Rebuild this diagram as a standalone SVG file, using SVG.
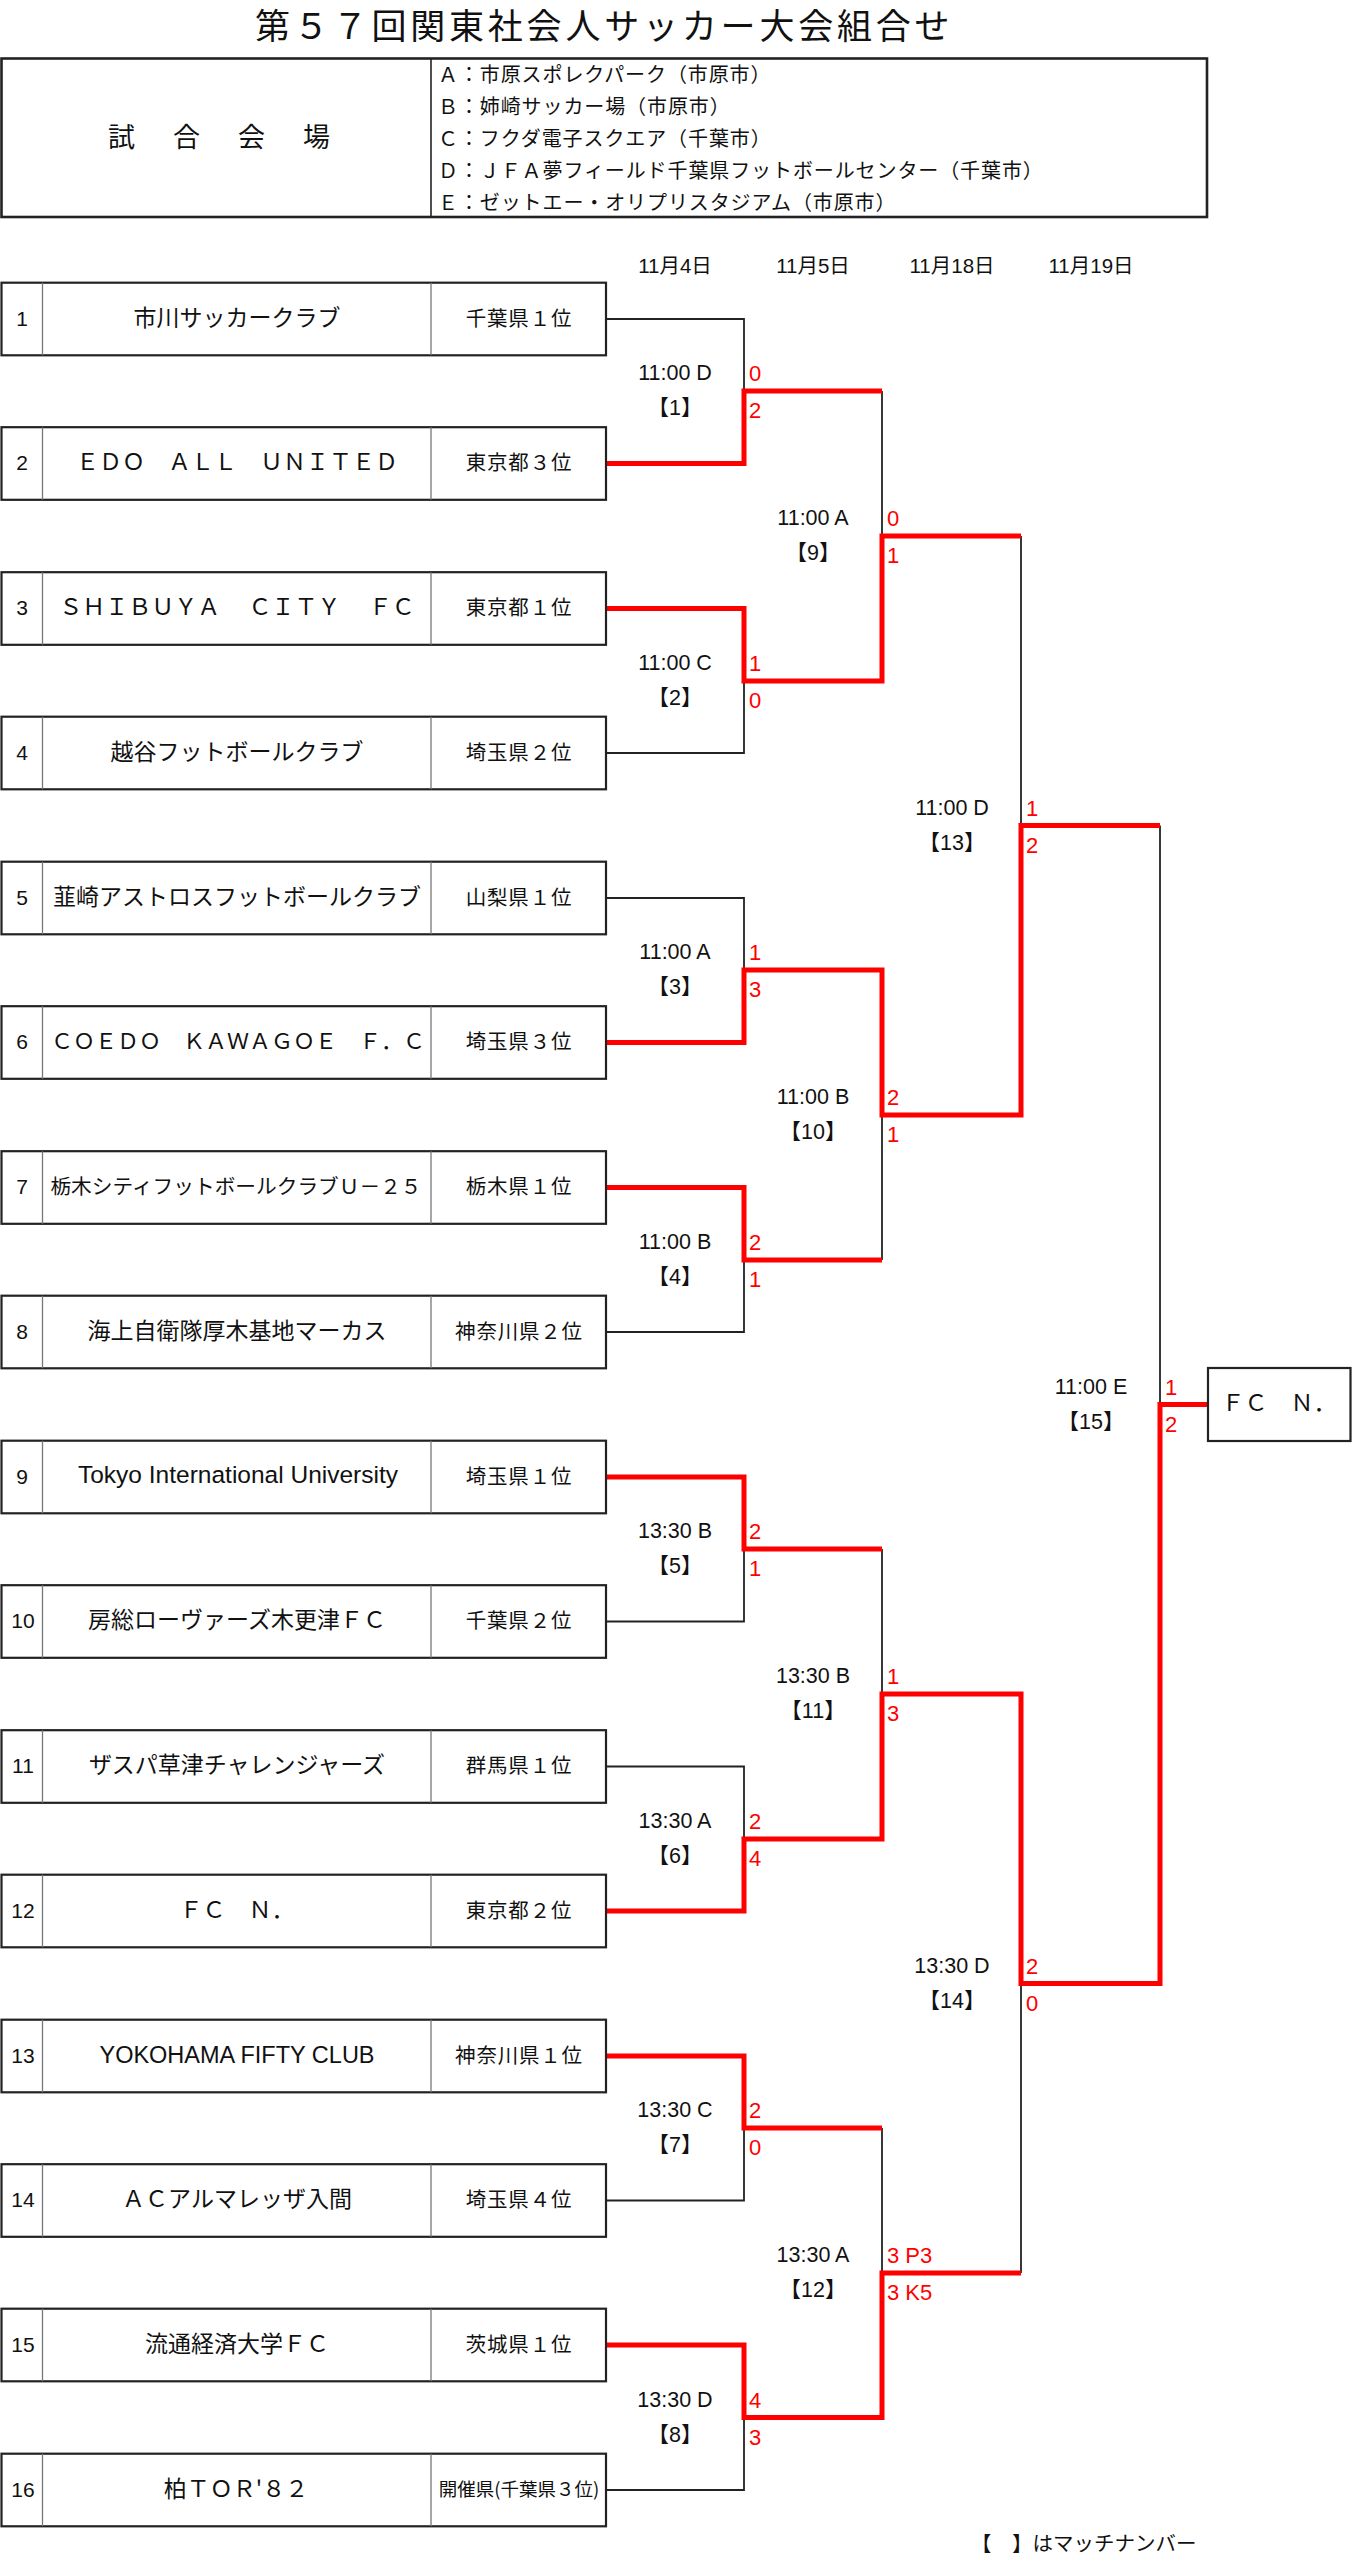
<svg xmlns="http://www.w3.org/2000/svg" width="1352" height="2561" viewBox="0 0 1352 2561">
<style>
.bg{fill:#fff}
.box{fill:#fff;stroke:#222;stroke-width:2.2}
.dv{stroke:#777;stroke-width:1.3}
.ln{fill:none;stroke:#222;stroke-width:1.8}
.win{fill:none;stroke:#ff0000;stroke-width:5;stroke-linejoin:miter;stroke-linecap:butt}
.num{font-family:"Liberation Sans","Noto Sans CJK JP",sans-serif;font-size:21px;text-anchor:middle;fill:#111}
.name{font-family:"Noto Sans CJK JP",sans-serif;font-size:23px;text-anchor:middle;fill:#111}
.lat{font-family:"Liberation Sans","Noto Sans CJK JP",sans-serif;text-anchor:middle;fill:#111}
.pref{font-family:"Noto Sans CJK JP",sans-serif;font-size:20.5px;letter-spacing:0.8px;text-anchor:middle;fill:#111}
.lbl{font-family:"Liberation Sans","Noto Sans CJK JP",sans-serif;font-size:21.5px;text-anchor:middle;fill:#111}
.sc{font-family:"Liberation Sans",sans-serif;font-size:22px;fill:#ff0000}
.ven{font-family:"Noto Sans CJK JP",sans-serif;font-size:20px;letter-spacing:0.9px;fill:#111}
</style>
<rect class="bg" x="0" y="0" width="1352" height="2561"/>

<g id="title">
<text x="255" y="39" style="font-family:'Noto Sans CJK JP',sans-serif;font-size:35px;letter-spacing:3.8px;fill:#111">第５７回関東社会人サッカー大会組合せ</text>
</g>

<g id="venues">
<rect x="1.5" y="58.5" width="1205.5" height="158.5" fill="#fff" stroke="#222" stroke-width="2.6"/>
<line x1="431" y1="58.5" x2="431" y2="217" stroke="#222" stroke-width="1.6"/>
<text x="108" y="146.5" style="font-family:'Noto Sans CJK JP',sans-serif;font-size:27px;letter-spacing:5.5px;fill:#111">試　合　会　場</text>
<text class="ven" x="438" y="82">Ａ：市原スポレクパーク（市原市）</text>
<text class="ven" x="438" y="114">Ｂ：姉崎サッカー場（市原市）</text>
<text class="ven" x="438" y="145.5">Ｃ：フクダ電子スクエア（千葉市）</text>
<text class="ven" x="438" y="178">Ｄ：ＪＦＡ夢フィールド千葉県フットボールセンター（千葉市）</text>
<text class="ven" x="438" y="210">Ｅ：ゼットエー・オリプリスタジアム（市原市）</text>
</g>

<g id="dates">
<text class="lbl" style="font-size:20.5px" x="675" y="273">11月4日</text>
<text class="lbl" style="font-size:20.5px" x="813" y="273">11月5日</text>
<text class="lbl" style="font-size:20.5px" x="952" y="273">11月18日</text>
<text class="lbl" style="font-size:20.5px" x="1091" y="273">11月19日</text>
</g>

<g id="connectors">
<path class="ln" d="M606,319 H744 V391"/>
<path class="ln" d="M606,753 H744 V681"/>
<path class="ln" d="M606,898 H744 V970"/>
<path class="ln" d="M606,1332 H744 V1260"/>
<path class="ln" d="M606,1621.5 H744 V1549"/>
<path class="ln" d="M606,1766.5 H744 V1839"/>
<path class="ln" d="M606,2200.5 H744 V2128"/>
<path class="ln" d="M606,2490 H744 V2417.5"/>
<path class="ln" d="M882,391 V536"/>
<path class="ln" d="M882,1260 V1115"/>
<path class="ln" d="M882,1549 V1694"/>
<path class="ln" d="M882,2128 V2273"/>
<path class="ln" d="M1021,536 V825.5"/>
<path class="ln" d="M1021,2273 V1983.5"/>
<path class="ln" d="M1160,825.5 V1404.5"/>
<path class="win" d="M606,463.5 H744 V391 H882"/>
<path class="win" d="M606,608.5 H744 V681 H882 V536 H1021"/>
<path class="win" d="M606,1042.5 H744 V970 H882 V1115 H1021 V825.5 H1160"/>
<path class="win" d="M606,1187.5 H744 V1260 H882"/>
<path class="win" d="M606,1477 H744 V1549 H882"/>
<path class="win" d="M606,1911 H744 V1839 H882 V1694 H1021 V1983.5 H1160 V1404.5 H1208"/>
<path class="win" d="M606,2056 H744 V2128 H882"/>
<path class="win" d="M606,2345 H744 V2417.5 H882 V2273 H1021"/>
</g>

<g id="team-1"><rect class="box" x="1.5" y="282.7" width="604.5" height="72.6"/><line class="dv" x1="42.5" y1="282.7" x2="42.5" y2="355.3"/><line class="dv" x1="431" y1="282.7" x2="431" y2="355.3"/>
<text class="num" x="22" y="325.5">1</text><text class="name" x="237" y="325.5">市川サッカークラブ</text><text class="pref" x="519" y="325.5">千葉県１位</text></g>

<g id="team-2"><rect class="box" x="1.5" y="427.2" width="604.5" height="72.6"/><line class="dv" x1="42.5" y1="427.2" x2="42.5" y2="499.8"/><line class="dv" x1="431" y1="427.2" x2="431" y2="499.8"/>
<text class="num" x="22" y="470">2</text><text class="name" x="237" y="470">ＥＤＯ　ＡＬＬ　ＵＮＩＴＥＤ</text><text class="pref" x="519" y="470">東京都３位</text></g>

<g id="team-3"><rect class="box" x="1.5" y="572.2" width="604.5" height="72.6"/><line class="dv" x1="42.5" y1="572.2" x2="42.5" y2="644.8"/><line class="dv" x1="431" y1="572.2" x2="431" y2="644.8"/>
<text class="num" x="22" y="615">3</text><text class="name" x="237" y="615">ＳＨＩＢＵＹＡ　 ＣＩＴＹ　 ＦＣ</text><text class="pref" x="519" y="615">東京都１位</text></g>

<g id="team-4"><rect class="box" x="1.5" y="716.7" width="604.5" height="72.6"/><line class="dv" x1="42.5" y1="716.7" x2="42.5" y2="789.3"/><line class="dv" x1="431" y1="716.7" x2="431" y2="789.3"/>
<text class="num" x="22" y="759.5">4</text><text class="name" x="237" y="759.5">越谷フットボールクラブ</text><text class="pref" x="519" y="759.5">埼玉県２位</text></g>

<g id="team-5"><rect class="box" x="1.5" y="861.7" width="604.5" height="72.6"/><line class="dv" x1="42.5" y1="861.7" x2="42.5" y2="934.3"/><line class="dv" x1="431" y1="861.7" x2="431" y2="934.3"/>
<text class="num" x="22" y="904.5">5</text><text class="name" x="237" y="904.5">韮崎アストロスフットボールクラブ</text><text class="pref" x="519" y="904.5">山梨県１位</text></g>

<g id="team-6"><rect class="box" x="1.5" y="1006.2" width="604.5" height="72.6"/><line class="dv" x1="42.5" y1="1006.2" x2="42.5" y2="1078.8"/><line class="dv" x1="431" y1="1006.2" x2="431" y2="1078.8"/>
<text class="num" x="22" y="1049">6</text><text class="name" style="font-size:22px" x="238" y="1049">ＣＯＥＤＯ　ＫＡＷＡＧＯＥ　Ｆ．Ｃ</text><text class="pref" x="519" y="1049">埼玉県３位</text></g>

<g id="team-7"><rect class="box" x="1.5" y="1151.2" width="604.5" height="72.6"/><line class="dv" x1="42.5" y1="1151.2" x2="42.5" y2="1223.8"/><line class="dv" x1="431" y1="1151.2" x2="431" y2="1223.8"/>
<text class="num" x="22" y="1194">7</text><text class="name" style="font-size:20.7px" x="236" y="1194">栃木シティフットボールクラブＵ－２５</text><text class="pref" x="519" y="1194">栃木県１位</text></g>

<g id="team-8"><rect class="box" x="1.5" y="1295.7" width="604.5" height="72.6"/><line class="dv" x1="42.5" y1="1295.7" x2="42.5" y2="1368.3"/><line class="dv" x1="431" y1="1295.7" x2="431" y2="1368.3"/>
<text class="num" x="22" y="1338.5">8</text><text class="name" x="237" y="1338.5">海上自衛隊厚木基地マーカス</text><text class="pref" x="519" y="1338.5">神奈川県２位</text></g>

<g id="team-9"><rect class="box" x="1.5" y="1440.7" width="604.5" height="72.6"/><line class="dv" x1="42.5" y1="1440.7" x2="42.5" y2="1513.3"/><line class="dv" x1="431" y1="1440.7" x2="431" y2="1513.3"/>
<text class="num" x="22" y="1483.5">9</text><text class="lat" style="font-size:24.5px" x="238" y="1483">Tokyo International University</text><text class="pref" x="519" y="1483.5">埼玉県１位</text></g>

<g id="team-10"><rect class="box" x="1.5" y="1585.2" width="604.5" height="72.6"/><line class="dv" x1="42.5" y1="1585.2" x2="42.5" y2="1657.8"/><line class="dv" x1="431" y1="1585.2" x2="431" y2="1657.8"/>
<text class="num" x="23" y="1628">10</text><text class="name" x="237" y="1628">房総ローヴァーズ木更津ＦＣ</text><text class="pref" x="519" y="1628">千葉県２位</text></g>

<g id="team-11"><rect class="box" x="1.5" y="1730.2" width="604.5" height="72.6"/><line class="dv" x1="42.5" y1="1730.2" x2="42.5" y2="1802.8"/><line class="dv" x1="431" y1="1730.2" x2="431" y2="1802.8"/>
<text class="num" x="23" y="1773">11</text><text class="name" x="237" y="1773">ザスパ草津チャレンジャーズ</text><text class="pref" x="519" y="1773">群馬県１位</text></g>

<g id="team-12"><rect class="box" x="1.5" y="1874.7" width="604.5" height="72.6"/><line class="dv" x1="42.5" y1="1874.7" x2="42.5" y2="1947.3"/><line class="dv" x1="431" y1="1874.7" x2="431" y2="1947.3"/>
<text class="num" x="23" y="1917.5">12</text><text class="name" x="237" y="1917.5">ＦＣ　Ｎ．</text><text class="pref" x="519" y="1917.5">東京都２位</text></g>

<g id="team-13"><rect class="box" x="1.5" y="2019.7" width="604.5" height="72.6"/><line class="dv" x1="42.5" y1="2019.7" x2="42.5" y2="2092.3"/><line class="dv" x1="431" y1="2019.7" x2="431" y2="2092.3"/>
<text class="num" x="23" y="2062.5">13</text><text class="lat" style="font-size:23.5px" x="237" y="2062.5">YOKOHAMA FIFTY CLUB</text><text class="pref" x="519" y="2062.5">神奈川県１位</text></g>

<g id="team-14"><rect class="box" x="1.5" y="2164.2" width="604.5" height="72.6"/><line class="dv" x1="42.5" y1="2164.2" x2="42.5" y2="2236.8"/><line class="dv" x1="431" y1="2164.2" x2="431" y2="2236.8"/>
<text class="num" x="23" y="2207">14</text><text class="name" x="237" y="2207">ＡＣアルマレッザ入間</text><text class="pref" x="519" y="2207">埼玉県４位</text></g>

<g id="team-15"><rect class="box" x="1.5" y="2308.7" width="604.5" height="72.6"/><line class="dv" x1="42.5" y1="2308.7" x2="42.5" y2="2381.3"/><line class="dv" x1="431" y1="2308.7" x2="431" y2="2381.3"/>
<text class="num" x="23" y="2351.5">15</text><text class="name" x="237" y="2351.5">流通経済大学ＦＣ</text><text class="pref" x="519" y="2351.5">茨城県１位</text></g>

<g id="team-16"><rect class="box" x="1.5" y="2453.7" width="604.5" height="72.6"/><line class="dv" x1="42.5" y1="2453.7" x2="42.5" y2="2526.3"/><line class="dv" x1="431" y1="2453.7" x2="431" y2="2526.3"/>
<text class="num" x="23" y="2496.5">16</text><text class="name" x="236" y="2496.5">柏ＴＯＲ'８２</text><text class="pref" style="font-size:18.5px;letter-spacing:0" x="519" y="2496">開催県(千葉県３位)</text></g>

<g id="champion"><rect class="box" x="1208" y="1368" width="142.5" height="73"/>
<text class="name" x="1279" y="1411">ＦＣ　Ｎ．</text></g>

<g id="match-1"><text class="lbl" x="675" y="380">11:00 D</text><text class="lbl" x="675" y="415">【1】</text><text class="sc" x="749" y="381">0</text><text class="sc" x="749" y="418">2</text></g>
<g id="match-2"><text class="lbl" x="675" y="670">11:00 C</text><text class="lbl" x="675" y="705">【2】</text><text class="sc" x="749" y="671">1</text><text class="sc" x="749" y="708">0</text></g>
<g id="match-3"><text class="lbl" x="675" y="959">11:00 A</text><text class="lbl" x="675" y="994">【3】</text><text class="sc" x="749" y="960">1</text><text class="sc" x="749" y="997">3</text></g>
<g id="match-4"><text class="lbl" x="675" y="1249">11:00 B</text><text class="lbl" x="675" y="1284">【4】</text><text class="sc" x="749" y="1250">2</text><text class="sc" x="749" y="1287">1</text></g>
<g id="match-5"><text class="lbl" x="675" y="1538">13:30 B</text><text class="lbl" x="675" y="1573">【5】</text><text class="sc" x="749" y="1539">2</text><text class="sc" x="749" y="1576">1</text></g>
<g id="match-6"><text class="lbl" x="675" y="1828">13:30 A</text><text class="lbl" x="675" y="1863">【6】</text><text class="sc" x="749" y="1829">2</text><text class="sc" x="749" y="1866">4</text></g>
<g id="match-7"><text class="lbl" x="675" y="2117">13:30 C</text><text class="lbl" x="675" y="2152">【7】</text><text class="sc" x="749" y="2118">2</text><text class="sc" x="749" y="2155">0</text></g>
<g id="match-8"><text class="lbl" x="675" y="2406.5">13:30 D</text><text class="lbl" x="675" y="2441.5">【8】</text><text class="sc" x="749" y="2407.5">4</text><text class="sc" x="749" y="2444.5">3</text></g>
<g id="match-9"><text class="lbl" x="813" y="525">11:00 A</text><text class="lbl" x="813" y="560">【9】</text><text class="sc" x="887" y="526">0</text><text class="sc" x="887" y="563">1</text></g>
<g id="match-10"><text class="lbl" x="813" y="1104">11:00 B</text><text class="lbl" x="813" y="1139">【10】</text><text class="sc" x="887" y="1105">2</text><text class="sc" x="887" y="1142">1</text></g>
<g id="match-11"><text class="lbl" x="813" y="1683">13:30 B</text><text class="lbl" x="813" y="1718">【11】</text><text class="sc" x="887" y="1684">1</text><text class="sc" x="887" y="1721">3</text></g>
<g id="match-12"><text class="lbl" x="813" y="2262">13:30 A</text><text class="lbl" x="813" y="2297">【12】</text><text class="sc" x="887" y="2263">3 P3</text><text class="sc" x="887" y="2300">3 K5</text></g>
<g id="match-13"><text class="lbl" x="952" y="814.5">11:00 D</text><text class="lbl" x="952" y="849.5">【13】</text><text class="sc" x="1026" y="815.5">1</text><text class="sc" x="1026" y="852.5">2</text></g>
<g id="match-14"><text class="lbl" x="952" y="1972.5">13:30 D</text><text class="lbl" x="952" y="2007.5">【14】</text><text class="sc" x="1026" y="1973.5">2</text><text class="sc" x="1026" y="2010.5">0</text></g>
<g id="match-15"><text class="lbl" x="1091" y="1393.5">11:00 E</text><text class="lbl" x="1091" y="1428.5">【15】</text><text class="sc" x="1165" y="1394.5">1</text><text class="sc" x="1165" y="1431.5">2</text></g>

<g id="note"><text x="971" y="2551" style="font-family:'Noto Sans CJK JP',sans-serif;font-size:20.5px;fill:#111">【　】はマッチナンバー</text></g>
</svg>
